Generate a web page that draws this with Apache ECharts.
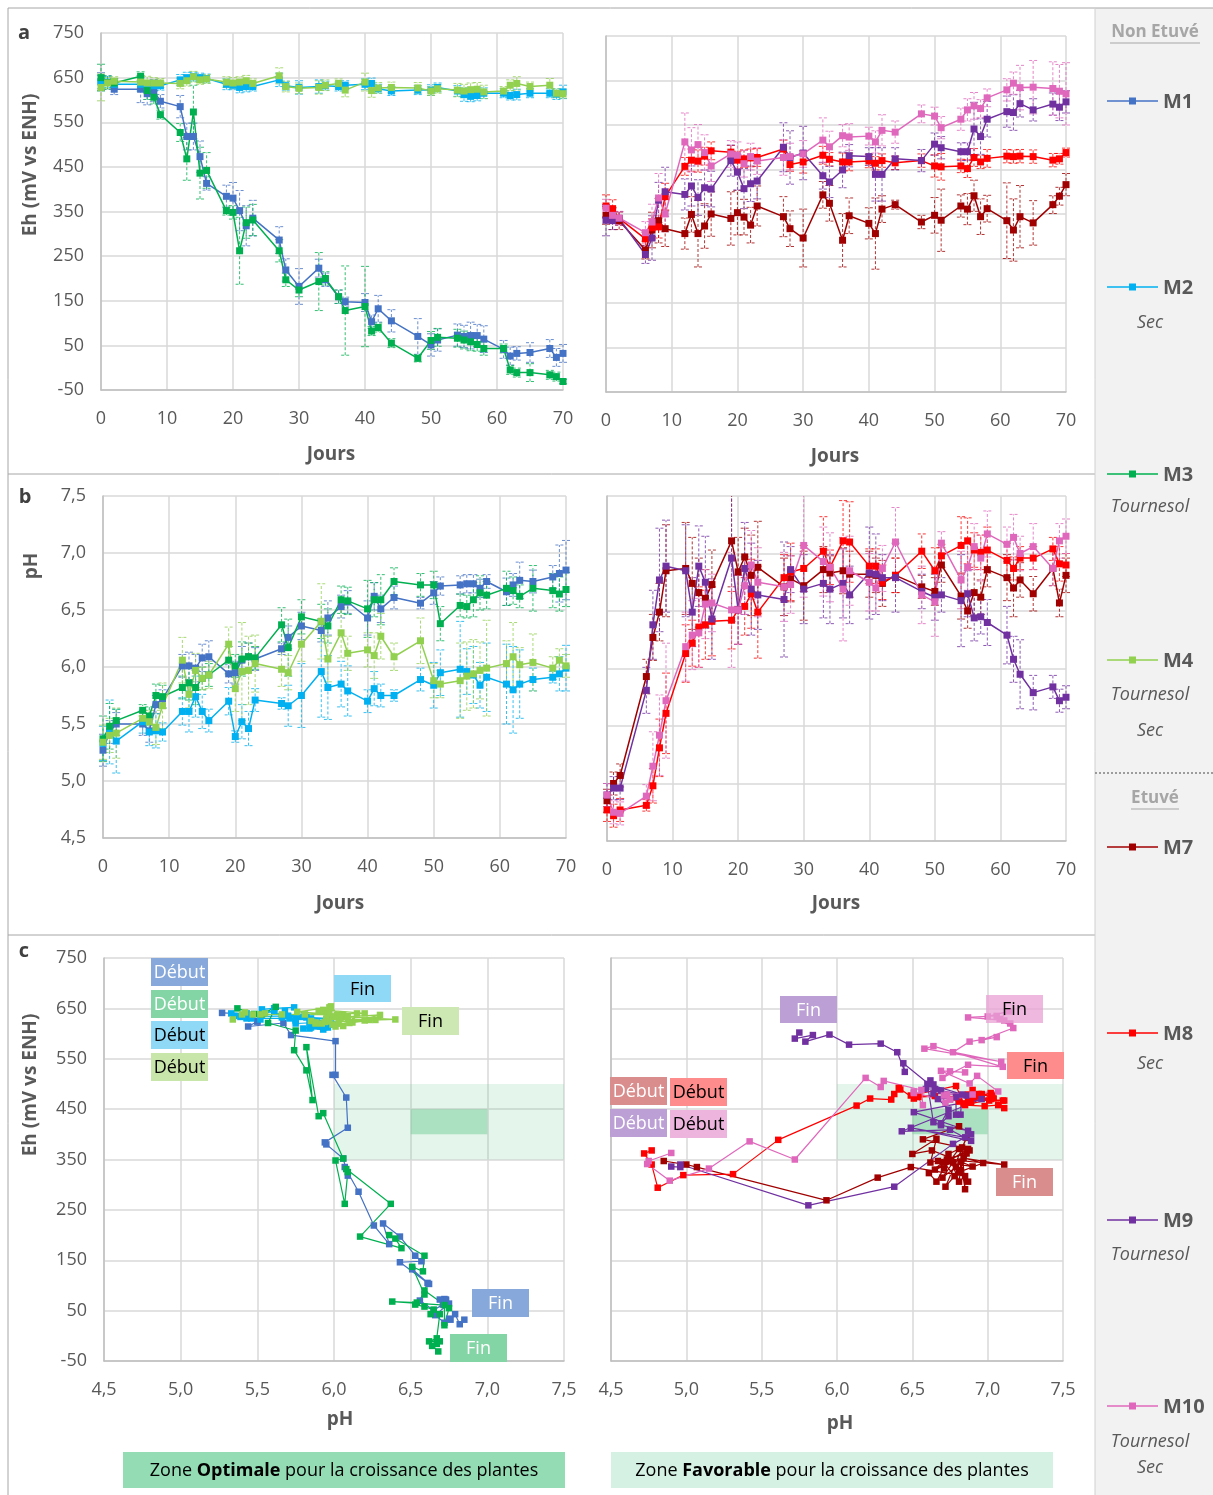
<!DOCTYPE html>
<html><head><meta charset="utf-8">
<script src="https://cdn.jsdelivr.net/npm/echarts@6/dist/echarts.min.js"></script>
<style>html,body{margin:0;padding:0;background:#fff}#c{width:1213px;height:1495px}</style>
</head><body><div id="c"></div><script>
// ---------- DATA ----------
const days = [0,1,2,6,7,8,9,12,13,14,15,16,19,20,21,22,23,27,28,30,33,34,36,37,40,41,42,44,48,50,51,54,55,56,57,58,61,62,63,65,68,69,70];

// Eh (mV vs ENH)
const ehM1 = [641,639,624,624,614,621,597,585,518,518,473,413,384,380,352,318,335,286,219,182,223,197,159,148,146,103,132,105,70,51,62,73,70,72,72,64,41,26,32,34,43,23,32];
const ehM2 = [640,640,635,635,630,632,632,645,650,652,650,648,635,633,628,630,630,645,632,628,630,632,630,633,635,637,625,620,622,622,628,620,612,608,610,615,615,610,612,615,615,613,618];
const ehM3 = [650,639,638,653,621,606,567,527,468,573,436,442,352,348,262,325,331,262,197,174,193,200,159,128,137,82,90,55,21,61,68,66,62,58,52,43,43,-5,-11,-11,-16,-20,-31];
const ehM4 = [628,638,642,640,638,638,638,637,643,652,645,647,640,638,640,643,637,654,630,626,628,633,637,622,640,621,627,628,627,620,625,622,620,623,624,618,620,633,637,630,633,615,614];
const ehM7 = [347,340,335,269,314,335,317,306,349,306,323,350,340,353,343,325,368,344,317,296,393,374,291,346,329,306,361,371,332,347,336,368,361,391,344,362,335,314,344,330,371,390,416];
const ehM8 = [368,362,340,294,319,321,389,457,471,469,480,492,489,471,474,476,477,496,461,467,482,473,467,467,469,464,470,465,470,458,456,458,452,477,467,475,480,479,480,479,471,474,488];
const ehM9 = [336,335,340,259,296,381,400,394,413,387,409,406,470,444,407,418,424,500,477,487,436,422,449,481,479,439,439,474,470,507,499,490,490,541,524,563,580,578,598,584,597,590,602];
const ehM10 = [363,347,341,308,332,386,350,512,494,506,488,458,485,482,463,479,469,477,479,485,516,501,526,523,525,512,538,534,575,570,544,563,584,593,587,611,629,644,634,635,632,626,620];

// pH
const phM1 = [5.27,5.43,5.50,5.50,5.44,5.67,5.72,6.01,6.01,5.99,6.08,6.09,5.94,5.95,6.06,6.09,6.07,6.16,6.26,6.36,6.32,6.43,6.53,6.57,6.43,6.62,6.51,6.61,6.56,6.65,6.71,6.72,6.73,6.73,6.69,6.75,6.66,6.72,6.76,6.75,6.79,6.82,6.85];
const phM2 = [5.33,5.43,5.35,5.52,5.43,5.44,5.43,5.61,5.61,5.74,5.61,5.53,5.70,5.39,5.52,5.46,5.71,5.68,5.66,5.75,5.96,5.82,5.85,5.79,5.70,5.81,5.75,5.75,5.89,5.84,5.95,5.98,5.96,5.93,5.84,5.91,5.85,5.80,5.85,5.89,5.91,5.94,5.99];
const phM3 = [5.37,5.48,5.53,5.62,5.57,5.75,5.74,5.82,5.86,5.82,5.90,5.93,6.06,6.01,6.07,6.09,6.08,6.37,6.17,6.44,6.40,6.36,6.59,6.58,6.51,6.59,6.59,6.75,6.72,6.72,6.38,6.54,6.53,6.59,6.65,6.63,6.69,6.67,6.62,6.69,6.67,6.64,6.68];
const phM4 = [5.34,5.40,5.42,5.55,5.52,5.47,5.66,6.06,5.76,5.97,5.90,5.93,6.20,5.81,5.96,5.97,6.03,5.98,5.95,6.20,6.40,6.07,6.30,6.12,6.15,6.10,6.27,6.09,6.23,5.88,5.85,5.88,5.92,5.94,5.97,5.99,6.03,6.09,6.02,6.04,5.99,6.06,6.01];
const phM7 = [4.85,5.00,5.07,5.93,6.27,6.49,6.85,6.87,6.74,6.66,6.61,6.73,7.11,6.84,6.97,6.81,6.88,6.71,6.78,6.72,6.86,6.83,6.85,6.82,6.82,6.81,6.74,6.81,6.71,6.67,6.90,6.63,6.50,6.66,6.62,6.86,6.79,6.70,6.77,6.65,6.87,6.57,6.81];
const phM8 = [4.77,4.72,4.77,4.81,4.98,5.31,5.61,6.13,6.22,6.36,6.38,6.41,6.42,6.51,6.54,6.65,6.49,6.79,6.84,6.87,7.02,6.88,7.11,7.10,6.89,6.89,6.75,6.81,7.02,6.85,6.98,7.07,7.11,7.03,7.01,7.03,6.94,6.87,6.96,6.96,7.04,6.91,6.90];
const phM9 = [4.90,4.96,4.96,5.81,6.38,6.77,6.89,6.85,6.49,6.89,6.75,6.43,6.96,6.51,6.87,6.69,6.64,6.60,6.86,6.69,6.74,6.69,6.74,6.64,6.83,6.82,6.79,6.79,6.67,6.62,6.64,6.59,6.65,6.44,6.45,6.40,6.29,6.08,5.95,5.79,5.84,5.72,5.75];
const phM10 = [4.90,4.75,4.74,4.89,5.15,5.42,5.72,6.19,6.29,6.31,6.56,6.57,6.51,6.51,6.72,6.90,6.75,6.71,6.73,7.07,6.93,6.88,6.69,6.85,6.75,6.70,6.87,7.10,6.64,6.58,7.09,6.77,6.88,7.06,6.96,7.17,7.08,7.14,7.00,7.06,6.87,7.11,7.15];

// error bars (± values)
const errEhM1 = [20,15,12,30,25,25,15,25,30,30,35,15,25,35,45,45,40,30,25,40,20,15,15,10,20,15,30,25,40,25,25,25,25,30,25,30,20,20,15,22,20,20,20];
const errEhM2 = [15,12,10,15,12,12,10,12,12,10,10,10,12,10,12,12,10,15,10,15,15,10,10,10,12,12,10,10,10,12,10,12,15,12,12,12,10,10,12,10,10,12,15];
const errEhM3 = [30,15,10,10,20,15,10,20,48,60,58,40,10,15,75,35,35,25,15,15,65,15,15,100,90,10,10,10,8,20,20,20,20,20,15,15,10,10,10,20,10,10,5];
const errEhM4 = [30,12,10,15,15,12,10,12,12,12,10,10,12,12,12,12,10,18,12,12,15,12,10,15,20,15,12,12,12,10,10,15,15,15,15,15,10,12,15,10,15,10,10];
const errEhM7 = [20,25,20,20,40,50,40,35,40,75,50,50,60,50,40,40,45,45,40,65,30,40,60,40,35,80,30,10,15,40,70,25,35,35,40,30,85,70,70,50,20,20,25];
const errEhM8 = [25,20,15,15,20,25,30,20,25,25,20,20,15,20,20,20,20,20,15,25,20,15,20,20,15,15,15,15,15,25,30,15,20,20,15,20,15,15,15,15,15,12,10];
const errEhM9 = [35,20,15,20,50,40,55,35,45,40,40,40,35,40,45,40,40,55,60,60,30,35,40,25,20,60,60,25,25,25,25,20,20,60,40,40,35,40,30,25,25,30,25];
const errEhM10 = [20,15,15,25,40,55,40,65,50,45,40,35,30,30,30,30,30,40,30,30,50,35,25,30,20,25,35,25,20,20,25,25,25,30,20,20,25,25,50,60,60,60,70];
const errPhM1 = [0.14,0.10,0.10,0.10,0.10,0.08,0.08,0.10,0.12,0.12,0.12,0.14,0.08,0.10,0.12,0.12,0.10,0.05,0.10,0.12,0.10,0.15,0.10,0.10,0.15,0.12,0.12,0.10,0.05,0.10,0.08,0.08,0.08,0.08,0.08,0.06,0.12,0.10,0.16,0.10,0.10,0.25,0.26];
const errPhM2 = [0.15,0.28,0.28,0.10,0.12,0.15,0.08,0.12,0.18,0.18,0.15,0.10,0.12,0.05,0.15,0.15,0.10,0.05,0.18,0.28,0.40,0.28,0.20,0.22,0.10,0.15,0.10,0.05,0.10,0.20,0.20,0.42,0.20,0.25,0.20,0.30,0.35,0.38,0.30,0.10,0.05,0.15,0.20];
const errPhM3 = [0.20,0.20,0.10,0.05,0.08,0.10,0.10,0.10,0.15,0.15,0.10,0.10,0.12,0.10,0.15,0.12,0.10,0.15,0.25,0.15,0.15,0.15,0.12,0.12,0.25,0.15,0.22,0.12,0.10,0.12,0.15,0.10,0.10,0.15,0.15,0.12,0.15,0.12,0.10,0.20,0.15,0.15,0.15];
const errPhM4 = [0.15,0.15,0.22,0.05,0.10,0.15,0.20,0.20,0.12,0.15,0.10,0.12,0.15,0.20,0.43,0.30,0.25,0.15,0.15,0.15,0.33,0.20,0.22,0.15,0.15,0.20,0.20,0.12,0.20,0.15,0.12,0.33,0.30,0.30,0.25,0.42,0.20,0.30,0.15,0.25,0.10,0.10,0.10];
const errPhM7 = [0.10,0.10,0.10,0.15,0.20,0.25,0.40,0.40,0.40,0.30,0.25,0.30,0.40,0.30,0.25,0.35,0.40,0.25,0.20,0.30,0.20,0.15,0.20,0.20,0.20,0.15,0.20,0.15,0.10,0.12,0.15,0.20,0.15,0.20,0.15,0.15,0.20,0.25,0.15,0.15,0.15,0.12,0.15];
const errPhM8 = [0.10,0.10,0.10,0.05,0.15,0.25,0.35,0.25,0.20,0.35,0.30,0.30,0.25,0.30,0.25,0.30,0.40,0.20,0.25,0.20,0.30,0.15,0.35,0.35,0.15,0.15,0.15,0.15,0.15,0.20,0.10,0.25,0.20,0.15,0.15,0.20,0.15,0.10,0.10,0.10,0.10,0.15,0.10];
const errPhM9 = [0.10,0.10,0.10,0.20,0.30,0.45,0.40,0.40,0.30,0.35,0.40,0.35,0.55,0.30,0.40,0.40,0.30,0.50,0.20,0.30,0.30,0.30,0.30,0.25,0.40,0.35,0.20,0.30,0.15,0.20,0.15,0.40,0.20,0.20,0.15,0.20,0.25,0.20,0.30,0.15,0.10,0.10,0.10];
const errPhM10 = [0.10,0.10,0.10,0.10,0.30,0.35,0.50,0.30,0.30,0.30,0.30,0.25,0.50,0.30,0.25,0.30,0.30,0.30,0.25,0.45,0.30,0.30,0.45,0.30,0.25,0.20,0.20,0.30,0.25,0.30,0.10,0.25,0.20,0.20,0.20,0.20,0.15,0.20,0.15,0.20,0.15,0.15,0.15];

// plant-growth zones (pH range, Eh range)
const zoneFavorablePh = [6.0, 7.5];
const zoneFavorableEh = [350, 500];
const zoneOptimalePh = [6.5, 7.0];
const zoneOptimaleEh = [400, 450];

// tick labels
const dayTicks = [0, 70, 10];
const ehTicks = [-50, 750, 100];
const phTicks = [4.5, 7.5, 0.5];

// ---------- CHART ----------
const FONT = "'Open Sans', 'DejaVu Sans', sans-serif";
const TXT = '#595959';
const series = [
  {name:'M1', color:'#4472C4', eh:ehM1, ph:phM1, eEh:errEhM1, ePh:errPhM1, side:0},
  {name:'M2', color:'#00B0F0', eh:ehM2, ph:phM2, eEh:errEhM2, ePh:errPhM2, side:0},
  {name:'M3', color:'#00B050', eh:ehM3, ph:phM3, eEh:errEhM3, ePh:errPhM3, side:0},
  {name:'M4', color:'#92D050', eh:ehM4, ph:phM4, eEh:errEhM4, ePh:errPhM4, side:0},
  {name:'M7', color:'#A00000', eh:ehM7, ph:phM7, eEh:errEhM7, ePh:errPhM7, side:1},
  {name:'M8', color:'#FF0000', eh:ehM8, ph:phM8, eEh:errEhM8, ePh:errPhM8, side:1},
  {name:'M9', color:'#7030A0', eh:ehM9, ph:phM9, eEh:errEhM9, ePh:errPhM9, side:1},
  {name:'M10', color:'#E068BC', eh:ehM10, ph:phM10, eEh:errEhM10, ePh:errPhM10, side:1}
];

const grids = [
  {left:101, top:33, width:462, height:357},
  {left:606, top:36, width:460, height:356},
  {left:103, top:496, width:463, height:342},
  {left:607, top:496, width:459, height:345},
  {left:104, top:958, width:460, height:403},
  {left:611, top:958, width:452, height:403}
];

const fmtComma = v => v.toFixed(1).replace('.', ',');
function mkAxis(gi, range, isX, showLabel, fmt) {
  return {
    type:'value', gridIndex:gi, min:range[0], max:range[1], interval:range[2],
    axisLine:{show:true, onZero:false, lineStyle:{color:'#BFBFBF', width:1.5}},
    axisTick:{show:false},
    splitLine:{show:true, lineStyle:{color:'#D9D9D9', width:1.5}},
    axisLabel:{show:showLabel, color:TXT, fontSize:18, fontFamily:FONT, margin: isX ? 20 : 17, formatter: fmt}
  };
}
const xAxes = [
  mkAxis(0, dayTicks, true, true), mkAxis(1, dayTicks, true, true),
  mkAxis(2, dayTicks, true, true), mkAxis(3, dayTicks, true, true),
  mkAxis(4, phTicks, true, true, fmtComma), mkAxis(5, phTicks, true, true, fmtComma)
];
const yAxes = [
  mkAxis(0, ehTicks, false, true), mkAxis(1, ehTicks, false, false),
  mkAxis(2, phTicks, false, true, fmtComma), mkAxis(3, phTicks, false, false),
  mkAxis(4, ehTicks, false, true), mkAxis(5, ehTicks, false, false)
];

function errRender(color) {
  return function (params, api) {
    const x = api.value(0), v = api.value(1), e = api.value(2);
    const cs = params.coordSys;
    const p1 = api.coord([x, v - e]), p2 = api.coord([x, v + e]);
    const top = cs.y, bot = cs.y + cs.height;
    const c = v => Math.min(bot, Math.max(top, v));
    const st = {stroke: color, lineWidth: 1, lineDash: [3, 2], opacity: 0.8};
    const w = 4;
    const ch = [{type:'line', shape:{x1:p1[0], y1:c(p1[1]), x2:p1[0], y2:c(p2[1])}, style:st}];
    if (p1[1] <= bot) ch.push({type:'line', shape:{x1:p1[0]-w, y1:p1[1], x2:p1[0]+w, y2:p1[1]}, style:st});
    if (p2[1] >= top) ch.push({type:'line', shape:{x1:p2[0]-w, y1:p2[1], x2:p2[0]+w, y2:p2[1]}, style:st});
    return {type:'group', children: ch};
  };
}

const seriesList = [];
// zones in c panels
[4, 5].forEach(gi => {
  seriesList.push({
    type:'custom', xAxisIndex:gi, yAxisIndex:gi, silent:true, z:1,
    data:[[zoneFavorablePh[0], zoneFavorableEh[0], zoneFavorablePh[1], zoneFavorableEh[1], 0],
          [zoneOptimalePh[0], zoneOptimaleEh[0], zoneOptimalePh[1], zoneOptimaleEh[1], 1]],
    encode:{x:[0,2], y:[1,3]},
    renderItem: (params, api) => {
      const a = api.coord([api.value(0), api.value(1)]);
      const b = api.coord([api.value(2), api.value(3)]);
      const fill = api.value(4) === 0 ? 'rgba(120,205,155,0.2)' : 'rgba(120,205,155,0.53)';
      return {type:'rect', shape:{x:a[0], y:b[1], width:b[0]-a[0], height:a[1]-b[1]}, style:{fill}};
    }
  });
});

series.forEach(s => {
  const ga = s.side, gb = 2 + s.side;
  seriesList.push({type:'custom', xAxisIndex:ga, yAxisIndex:ga, silent:true, z:2,
    data: days.map((d,i)=>[d, s.eh[i], s.eEh[i]]), encode:{x:0, y:1}, renderItem: errRender(s.color)});
  seriesList.push({type:'custom', xAxisIndex:gb, yAxisIndex:gb, silent:true, z:2,
    data: days.map((d,i)=>[d, s.ph[i], s.ePh[i]]), encode:{x:0, y:1}, renderItem: errRender(s.color)});
});
series.forEach(s => {
  const ga = s.side, gb = 2 + s.side, gc = 4 + s.side;
  const common = {type:'line', symbol:'rect', symbolSize:7, showAllSymbol:true, z:3,
    lineStyle:{color:s.color, width:1.5}, itemStyle:{color:s.color}, emphasis:{disabled:true}};
  seriesList.push(Object.assign({}, common, {name:s.name, xAxisIndex:ga, yAxisIndex:ga, data: days.map((d,i)=>[d, s.eh[i]])}));
  seriesList.push(Object.assign({}, common, {name:s.name, xAxisIndex:gb, yAxisIndex:gb, data: days.map((d,i)=>[d, s.ph[i]])}));
  seriesList.push(Object.assign({}, common, {name:s.name, xAxisIndex:gc, yAxisIndex:gc, symbolSize:6.5,
    lineStyle:{color:s.color, width:1.2}, data: s.ph.map((p,i)=>[p, s.eh[i]])}));
});

// ---------- GRAPHICS (frame, titles, legend, annotations) ----------
const G = [];
const line = (x1,y1,x2,y2,stroke,w,dash) => G.push({type:'line', silent:true, z:0, shape:{x1,y1,x2,y2}, style:{stroke, lineWidth:w||1, lineDash:dash||null}});
const text = (x,y,t,opt) => G.push(Object.assign({type:'text', silent:true, x, y, z:10,
  style:Object.assign({text:t, fill:TXT, font:`bold 19px ${FONT}`, align:'center', verticalAlign:'middle'}, (opt&&opt.style)||{})},
  opt && opt.rotation !== undefined ? {rotation:opt.rotation} : {}));

// legend panel background
G.push({type:'rect', silent:true, z:-1, shape:{x:1095, y:8, width:118, height:1487}, style:{fill:'#F2F2F2'}});
line(8, 8, 1213, 8, '#A6A6A6', 1);
line(8, 8, 8, 1495, '#A6A6A6', 1);
line(8, 474, 1095, 474, '#A6A6A6', 1);
line(8, 935, 1095, 935, '#A6A6A6', 1);
line(1095, 8, 1095, 1495, '#D0D0D0', 1);
line(1095, 773, 1213, 773, '#808080', 1.5, [2, 2]);

// panel letters
text(24, 33, 'a', {style:{fill:'#404040', font:`bold 20px ${FONT}`}});
text(25, 497, 'b', {style:{fill:'#404040', font:`bold 20px ${FONT}`}});
text(24, 951, 'c', {style:{fill:'#404040', font:`bold 20px ${FONT}`}});
// axis titles
text(31, 165, 'Eh (mV vs ENH)', {rotation:Math.PI/2});
text(31, 1085, 'Eh (mV vs ENH)', {rotation:Math.PI/2});
text(32, 566, 'pH', {rotation:Math.PI/2});
text(331, 455, 'Jours');
text(835, 457, 'Jours');
text(340, 904, 'Jours');
text(836, 904, 'Jours');
text(340, 1420, 'pH');
text(840, 1424, 'pH');

// legend panel
text(1155, 32, 'Non Etuvé', {style:{fill:'#A6A6A6', font:`bold 17px ${FONT}`}});
line(1110, 43, 1200, 43, '#A6A6A6', 1);
text(1155, 798, 'Etuvé', {style:{fill:'#A6A6A6', font:`bold 17px ${FONT}`}});
line(1131, 809, 1179, 809, '#A6A6A6', 1);
const legendY = [101, 287, 474, 660, 847, 1033, 1220, 1406];
const legendSub = [[], ['Sec'], ['Tournesol'], ['Tournesol', 'Sec'], [], ['Sec'], ['Tournesol'], ['Tournesol', 'Sec']];
const subOffsets = [[], [36], [33], [35, 71], [], [31], [35], [36, 62]];
series.forEach((s, i) => {
  const y = legendY[i];
  line(1107, y, 1158, y, s.color, 1.5);
  G.push({type:'rect', silent:true, z:11, shape:{x:1129, y:y-3.5, width:7, height:7}, style:{fill:s.color}});
  G.push({type:'text', silent:true, z:11, x:1163, y:y+1.5, style:{text:s.name, fill:'#595959', font:`bold 20px ${FONT}`, align:'left', verticalAlign:'middle'}});
  legendSub[i].forEach((t, k) => {
    G.push({type:'text', silent:true, z:11, x:1150, y:y+subOffsets[i][k], style:{text:t, fill:'#595959', font:`italic 18px ${FONT}`, align:'center', verticalAlign:'middle'}});
  });
});

// annotation boxes
function box(x, y, w, h, fill, label, fg) {
  G.push({type:'rect', silent:true, z:12, shape:{x, y, width:w, height:h}, style:{fill}});
  G.push({type:'text', silent:true, z:13, x:x+w/2, y:y+h/2+1, style:{text:label, fill:fg, font:`18px ${FONT}`, align:'center', verticalAlign:'middle'}});
}
box(151, 958, 57, 28, '#86A8DA', 'Début', '#FFFFFF');
box(151, 990, 57, 28, '#84D5A6', 'Début', '#FFFFFF');
box(151, 1021, 57, 28, '#90D9F6', 'Début', '#000000');
box(151, 1053, 57, 28, '#C8E6AA', 'Début', '#000000');
box(334, 975, 57, 27, '#90D9F6', 'Fin', '#000000');
box(402, 1007, 57, 28, '#CDE8B2', 'Fin', '#000000');
box(472, 1289, 57, 28, '#86A8DA', 'Fin', '#FFFFFF');
box(450, 1334, 57, 28, '#84D5A6', 'Fin', '#FFFFFF');

box(610, 1077, 57, 28, '#D98D8D', 'Début', '#FFFFFF');
box(670, 1078, 57, 28, '#FF8C8C', 'Début', '#000000');
box(610, 1109, 57, 28, '#BB9FD5', 'Début', '#FFFFFF');
box(670, 1110, 57, 28, '#EDB5DE', 'Début', '#000000');
box(780, 996, 57, 27, '#BB9FD5', 'Fin', '#FFFFFF');
box(986, 995, 57, 28, 'rgba(232,160,212,0.75)', 'Fin', '#000000');
box(1007, 1052, 57, 27, '#FF8C8C', 'Fin', '#000000');
box(996, 1168, 57, 28, '#D98D8D', 'Fin', '#FFFFFF');

// bottom zone legend
function zoneBox(x, w, fill, bold) {
  G.push({type:'rect', silent:true, z:12, shape:{x, y:1452, width:w, height:36}, style:{fill}});
  G.push({type:'text', silent:true, z:13, x:x+w/2, y:1471, style:{
    text:`{n|Zone }{b|${bold}}{n| pour la croissance des plantes}`, align:'center', verticalAlign:'middle',
    rich:{n:{fill:'#000', font:`18px ${FONT}`}, b:{fill:'#000', font:`bold 18px ${FONT}`}}}});
}
zoneBox(123, 442, '#93DCB4', 'Optimale');
zoneBox(611, 442, '#D5F1E3', 'Favorable');

const chart = echarts.init(document.getElementById('c'), null, {renderer:'canvas'});
chart.setOption({
  animation:false,
  backgroundColor:'#FFFFFF',
  textStyle:{fontFamily:FONT},
  grid: grids,
  xAxis: xAxes,
  yAxis: yAxes,
  series: seriesList,
  graphic: G
});
</script></body></html>
